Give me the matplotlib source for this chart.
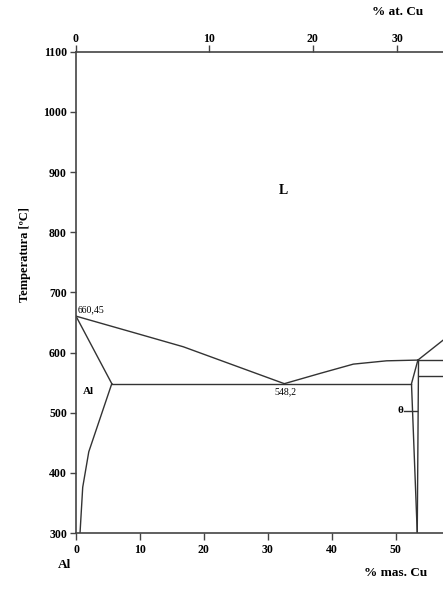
import numpy as np
import matplotlib
matplotlib.use("Agg")
import matplotlib.pyplot as plt

# ---- data (wt% Cu, temperature in °C) ----
liq_left_wt = [0.0, 9.5, 16.8, 32.6]
liq_left_T = [660.45, 631.7, 609.5, 548.2]

liq_right_wt = [32.6, 38.2, 43.4, 48.6, 53.5]
liq_right_T = [548.2, 565.3, 580.7, 586.2, 587.4]

solidus_wt = [0.0, 5.6]
solidus_T = [660.45, 548.2]

solvus_wt = [5.6, 2.0, 1.05, 0.63]
solvus_T = [548.2, 435.0, 376.0, 300.0]

eutectic_wt = [5.6, 52.5]
eutectic_T = [548.2, 548.2]

theta_left_wt = [53.5, 52.5, 53.4]
theta_left_T = [587.4, 548.2, 300.0]

theta_right_wt = [53.6, 53.4]
theta_right_T = [587.4, 300.0]

peritectic_wt = [53.5, 57.5]
peritectic_T = [587.4, 587.4]

lower_wt = [53.7, 57.5]
lower_T = [560.8, 560.8]

upper_liq_wt = [53.5, 57.5]
upper_liq_T = [587.4, 621.0]

theta_mark_wt = [51.3, 53.4]
theta_mark_T = [503.0, 503.0]

wt_ticks = [0, 10, 20, 30, 40, 50]
T_ticks = [300, 400, 500, 600, 700, 800, 900, 1000, 1100]
at_ticks = [0, 10, 20, 30]

M_CU, M_AL = 63.546, 26.982


def wt2at(w):
    w = np.asarray(w, dtype=float)
    a = w / M_CU
    b = (100.0 - w) / M_AL
    with np.errstate(divide="ignore", invalid="ignore"):
        return 100.0 * a / (a + b)


def at2wt(x):
    x = np.asarray(x, dtype=float)
    a = x * M_CU
    b = (100.0 - x) * M_AL
    with np.errstate(divide="ignore", invalid="ignore"):
        return 100.0 * a / (a + b)


plt.rcParams["font.family"] = ["Liberation Serif", "DejaVu Serif"]

fig = plt.figure(figsize=(4.43, 6.0), dpi=100)
ax = fig.add_axes([76 / 443, 67 / 600, 367 / 443, 481.3 / 600])

lc = "#333333"
lw = 1.0
for xs, ys in [
    (liq_left_wt, liq_left_T),
    (liq_right_wt, liq_right_T),
    (solidus_wt, solidus_T),
    (solvus_wt, solvus_T),
    (eutectic_wt, eutectic_T),
    (theta_left_wt, theta_left_T),
    (theta_right_wt, theta_right_T),
    (peritectic_wt, peritectic_T),
    (lower_wt, lower_T),
    (upper_liq_wt, upper_liq_T),
    (theta_mark_wt, theta_mark_T),
]:
    ax.plot(xs, ys, color=lc, lw=lw, solid_joinstyle="miter")

ax.set_xlim(0, 57.43)
ax.set_ylim(300, 1100)

ax.spines["right"].set_visible(False)
for s in ["left", "bottom", "top"]:
    ax.spines[s].set_color("#444444")
    ax.spines[s].set_linewidth(1.2)

ax.set_xticks(wt_ticks)
ax.set_yticks(T_ticks)
ax.tick_params(axis="both", direction="out", width=1.0,
               color="#444444", labelsize=8.5)
ax.tick_params(axis="x", length=5, pad=3)
ax.tick_params(axis="y", length=4.5, pad=2)
for lab in ax.get_xticklabels() + ax.get_yticklabels():
    lab.set_fontweight("bold")

sec = ax.secondary_xaxis("top", functions=(wt2at, at2wt))
sec.set_xticks(at_ticks)
sec.tick_params(direction="out", length=5, width=1.0, color="#444444",
                labelsize=8.5, pad=0)
sec.spines["top"].set_visible(False)
for lab in sec.get_xticklabels():
    lab.set_fontweight("bold")

# inside labels
ax.text(32.4, 870, "L", fontsize=10, fontweight="bold", ha="center", va="center")
ax.text(0.3, 671, "660,45", fontsize=7, ha="left", va="center")
ax.text(32.8, 534, "548,2", fontsize=7, ha="center", va="center")
ax.text(1.9, 536, "Al", fontsize=8, fontweight="bold", ha="center", va="center")
ax.text(51.2, 503, "θ", fontsize=8, fontweight="bold", ha="right", va="center")

# outside labels
fig.text(398 / 443, 1 - 12 / 600, "% at. Cu", fontsize=9.5, fontweight="bold",
         ha="center", va="center")
fig.text(396 / 443, 1 - 573 / 600, "% mas. Cu", fontsize=9.5, fontweight="bold",
         ha="center", va="center")
fig.text(65 / 443, 1 - 565 / 600, "Al", fontsize=9.5, fontweight="bold",
         ha="center", va="center")
fig.text(25 / 443, 1 - 255 / 600, "Temperatura [ºC]", fontsize=9, fontweight="bold",
         ha="center", va="center", rotation=90)

fig.savefig("out.png", dpi=100)
